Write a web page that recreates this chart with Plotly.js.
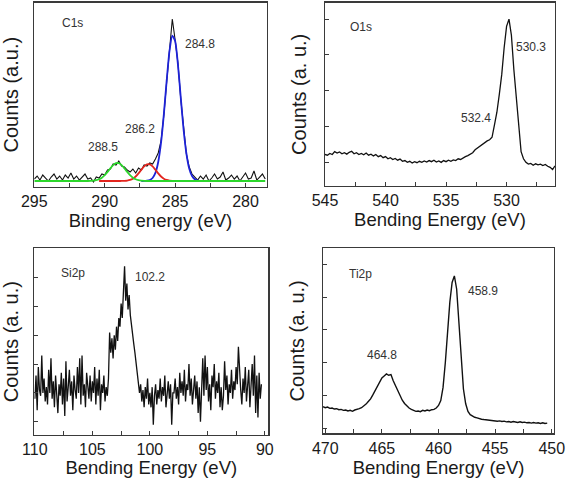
<!DOCTYPE html>
<html>
<head>
<meta charset="utf-8">
<script src="https://cdn.plot.ly/plotly-3.0.1.min.js"></script>
<style>
html,body{margin:0;padding:0;background:#fff;}
#chart{width:567px;height:478px;}
</style>
</head>
<body>
<div id="chart"></div>
<script>
// ---------------- C1s (binding energy, eV; start and step of the energy grid) ----------------
const c1sStart = 295.0, c1sStep = -0.2;
const c1sCounts = [
  2, 5, 1, 6, 3, 0, 4, 7, 2, 5,
  1, 6, 3, 8, 2, 5, 1, 4, 7, 2,
  3, -1, 4, 3, 7, 6, 11, 12, 17, 16,
  20, 15, 14, 11, 9, 12, 8, 13, 11, 16,
  15, 18, 17, 22, 28, 40, 66, 99, 133, 162,
  141, 118, 82, 53, 27, 14, 7, 4, 1, 5,
  2, 6, 0, 3, 7, 2, 4, 9, 1, 3,
  6, 2, 5, 0, 4, 8, 2, 3, 10, 1,
  4, 7, 2
];
const c1sBlueStart = 287.4;
const c1sFitBlue = [0, 0.06, 0.3, 0.9, 3.0, 8.1, 19.0, 38.3, 66.8, 100.3, 130.1, 145.3,
  140.0, 116.4, 83.4, 51.5, 27.5, 12.6, 5.0, 1.7, 0.5, 0.1, 0];
const c1sRedStart = 290.4;
const c1sFitRed = [0, 0, 0, 0, 0, 0, 0, 0.01, 0.04, 0.14, 0.41, 1.04, 2.3, 4.5,
  7.6, 11.2, 14.7, 16.7, 16.7, 14.7, 11.2, 7.6, 4.5, 2.3, 1.04, 0.41, 0.14, 0.04];
const c1sFitGreen = [
  0, 0, 0, 0, 0, 0, 0, 0, 0, 0,
  0, 0, 0, 0, 0, 0, 0, 0, 0, 0,
  0.12, 0.33, 0.79, 1.72, 3.35, 5.85, 9.1, 12.7, 15.9, 17.8,
  17.8, 15.9, 12.7, 9.1, 5.85, 3.35, 1.72, 0.79, 0.33, 0.12,
  0, 0, 0, 0, 0, 0, 0, 0, 0, 0,
  0, 0, 0, 0, 0, 0, 0, 0, 0, 0,
  0, 0, 0, 0, 0, 0, 0, 0, 0, 0,
  0, 0, 0, 0, 0, 0, 0, 0, 0, 0,
  0, 0, 0
];
const c1sTicks = [295, 290, 285, 280];
const c1sLabels = ['C1s', '284.8', '286.2', '288.5'];

// ---------------- O1s ----------------
const o1sStart = 545.0, o1sStep = -0.2;
const o1sCounts = [
  0.22,
  0.20, 0.25, 0.22, 0.30, 0.26, 0.29, 0.24, 0.27, 0.23, 0.28,
  0.31, 0.24, 0.27, 0.22, 0.25, 0.21, 0.26, 0.20, 0.23, 0.18,
  0.22, 0.16, 0.19, 0.13, 0.16, 0.10, 0.13, 0.08, 0.11, 0.06,
  0.09, 0.03, 0.05, 0.00, 0.03, -0.02, 0.02, -0.01, 0.03, 0.00,
  0.04, 0.01, 0.05, 0.02, 0.06, 0.01, 0.04, 0.00, 0.05, 0.02,
  0.06, 0.03, 0.07, 0.05, 0.10, 0.08, 0.13, 0.16, 0.19, 0.24,
  0.27, 0.35, 0.40, 0.47, 0.52, 0.56, 0.60, 0.63, 0.70, 1.05,
  1.40, 1.90, 2.45, 3.20, 3.80, 4.00, 3.55, 2.60, 1.75, 0.90,
  0.30, 0.10, 0.00, -0.05, -0.03, -0.08, -0.04, -0.07, -0.05, -0.09,
  -0.06, -0.11, -0.14, -0.20, -0.10
];
const o1sTicks = [545, 540, 535, 530];
const o1sLabels = ['O1s', '530.3', '532.4'];

// ---------------- Si2p ----------------
const si2pStart = 110.0, si2pStep = -0.1;
const si2pCounts = [
  0.8, 1.6, 0.4, 1.9, 1.1, 0.9, 2.3, 1.0, 1.5, 0.7,
  1.2, 0.6, 1.8, 1.0, 2.2, 0.8, 1.4, 0.5, 1.6, 1.1,
  0.3, 1.3, 0.9, 1.7, 0.6, 1.5, 0.2, 2.1, 0.7, 1.2,
  1.8, 0.9, 1.4, 0.4, 1.6, 1.1, 0.8, 1.9, 1.0, 2.2,
  0.6, 2.3, 0.9, 1.3, 0.5, 1.7, 1.2, 0.8, 1.6, 0.7,
  1.4, 1.0, 1.9, 0.6, 1.5, 0.9, 1.8, 0.4, 1.3, 1.0,
  1.6, 0.7, 1.2, 0.9, 1.5, 3.1, 2.4, 2.9, 2.2, 3.0,
  2.5, 3.3, 2.8, 3.6, 3.3, 4.1, 3.6, 4.6, 5.4, 4.2,
  4.8, 3.9, 4.4, 3.7, 3.3, 3.0, 2.7, 2.4, 2.0, 1.7,
  1.4, 1.0, 1.3, 0.7, 1.1, 0.5, 1.2, 0.8, 1.5, 0.6,
  1.0, 0.5, 1.2, -0.1, 0.9, 1.3, 0.6, 1.1, 0.8, 1.5,
  0.7, 1.2, 0.9, 1.6, 0.5, 1.1, 1.4, 0.8, 1.3, -0.1,
  1.0, 1.0, 1.5, 0.8, 1.2, 0.6, 1.7, 1.0, 1.4, 0.9,
  1.8, 0.7, 1.3, 1.1, 2.0, 0.9, 1.5, 0.6, 1.2, 1.6,
  0.8, 1.4, 0.3, 1.2, 0.0, 1.0, 2.2, 0.9, 2.3, 1.1,
  1.9, 0.7, 1.3, 0.4, 1.6, 1.2, 2.0, 0.8, 1.4, 1.0,
  1.7, 0.5, 1.2, 0.4, 0.9, 2.1, 1.1, 1.6, 0.6, 1.3,
  1.0, 1.8, 0.8, 1.4, 1.1, 1.9, 1.3, 2.6, 1.5, 1.1,
  0.6, 1.5, 1.0, 1.9, 0.7, 1.3, 1.8, 0.5, 1.2, 2.0,
  0.9, 2.3, 0.3, 1.6, 0.15, 1.7, 0.8, 1.3
];
const si2pTicks = [110, 105, 100, 95, 90];
const si2pLabels = ['Si2p', '102.2'];

// ---------------- Ti2p ----------------
const ti2pStart = 470.2, ti2pStep = -0.2;
const ti2pCounts = [
  0.66, 0.63, 0.65, 0.61, 0.62, 0.59, 0.60, 0.57, 0.58, 0.55,
  0.56, 0.53, 0.55, 0.52, 0.56, 0.57, 0.60, 0.63, 0.68, 0.74,
  0.82, 0.90, 1.02, 1.15, 1.29, 1.42, 1.54, 1.60, 1.66, 1.62,
  1.64, 1.45, 1.30, 1.14, 0.98, 0.86, 0.76, 0.68, 0.62, 0.58,
  0.55, 0.52, 0.53, 0.51, 0.55, 0.53, 0.56, 0.54, 0.57, 0.58,
  0.62, 0.70, 0.85, 1.25, 2.00, 2.95, 3.85, 4.45, 4.65, 4.25,
  3.20, 2.05, 1.20, 0.75, 0.52, 0.42, 0.37, 0.34, 0.32, 0.29,
  0.28, 0.27, 0.26, 0.25, 0.24, 0.25, 0.23, 0.22, 0.23, 0.21,
  0.22, 0.20, 0.21, 0.19, 0.21, 0.20, 0.18, 0.20, 0.18, 0.19,
  0.17, 0.18, 0.16, 0.18, 0.16, 0.17, 0.15, 0.17, 0.15, 0.16
];
const ti2pTicks = [470, 465, 460, 455, 450];
const ti2pLabels = ['Ti2p', '458.9', '464.8'];

// ---------------- styling ----------------
const FONT = 'Liberation Sans, Arial, Helvetica, sans-serif';
const INK = '#1a1a1a';
const FRAME = '#3a3a3a';

function rawTrace(start, step, y, xa, ya, w) {
  return {type: 'scatter', mode: 'lines', x0: start, dx: step, y: y, xaxis: xa, yaxis: ya,
    line: {color: '#111', width: w}, hoverinfo: 'skip', showlegend: false};
}
function fitTrace(start, step, y, color) {
  return {type: 'scatter', mode: 'lines', x0: start, dx: step, y: y, xaxis: 'x', yaxis: 'y',
    line: {color: color, width: 1.8, shape: 'spline', smoothing: 0.6}, hoverinfo: 'skip', showlegend: false};
}

const traces = [
  rawTrace(c1sStart, c1sStep, c1sCounts, 'x', 'y', 1.1),
  fitTrace(c1sBlueStart, c1sStep, c1sFitBlue, '#1d22d8'),
  fitTrace(c1sRedStart, c1sStep, c1sFitRed, '#e3261f'),
  fitTrace(c1sStart, c1sStep, c1sFitGreen, '#2cd62c'),
  rawTrace(o1sStart, o1sStep, o1sCounts, 'x2', 'y2', 1.3),
  rawTrace(si2pStart, si2pStep, si2pCounts, 'x3', 'y3', 1.3),
  rawTrace(ti2pStart, ti2pStep, ti2pCounts, 'x4', 'y4', 1.4)
];

function xAxis(domain, range, anchor, tickvals, title) {
  return {
    domain: domain, range: range, anchor: anchor,
    tickmode: 'array', tickvals: tickvals,
    ticks: 'inside', ticklen: 4, tickwidth: 1, tickcolor: FRAME,
    minor: {tick0: 0, dtick: 2.5, ticks: 'inside', ticklen: 4, tickwidth: 1, tickcolor: FRAME},
    showgrid: false, zeroline: false, showline: true, mirror: true,
    linecolor: FRAME, linewidth: 1.2,
    tickfont: {family: FONT, size: 16, color: INK},
    title: {text: title, font: {family: FONT, size: 18.5, color: INK}, standoff: 0},
    automargin: false
  };
}
function yAxis(domain, range, anchor, title, showTicks) {
  return {
    domain: domain, range: range, anchor: anchor,
    tickmode: 'linear', tick0: 0, dtick: 1,
    ticks: showTicks ? 'inside' : '', ticklen: 4, tickwidth: 1, tickcolor: FRAME,
    showticklabels: false,
    showgrid: false, zeroline: false, showline: true, mirror: true,
    linecolor: FRAME, linewidth: 1.2,
    title: {text: title, font: {family: FONT, size: 20, color: INK}, standoff: 11},
    automargin: false
  };
}

function label(text, x, y, xref, yref) {
  return {text: text, x: x, y: y, xref: xref, yref: yref, showarrow: false,
    xanchor: 'center', yanchor: 'middle', font: {family: FONT, size: 12, color: '#333'}};
}

const layout = {
  width: 567, height: 478,
  margin: {l: 0, r: 0, t: 0, b: 0},
  paper_bgcolor: '#fff', plot_bgcolor: '#fff',
  showlegend: false,
  xaxis:  xAxis([0.0605, 0.4703], [295, 278.5], 'y', c1sTicks, 'Binding energy (eV)'),
  yaxis:  yAxis([0.6094, 0.9944], [-5.7, 178.3], 'x', 'Counts (a.u.)', false),
  xaxis2: xAxis([0.5732, 0.9788], [545, 526.0], 'y2', o1sTicks, 'Bending Energy (eV)'),
  yaxis2: yAxis([0.6109, 0.9944], [-0.66, 4.46], 'x2', 'Counts (a. u.)', true),
  xaxis3: xAxis([0.0605, 0.4732], [110.05, 89.7], 'y3', si2pTicks, 'Bending Energy (eV)'),
  yaxis3: yAxis([0.0900, 0.4805], [-0.46, 6.02], 'x3', 'Counts (a. u.)', true),
  xaxis4: xAxis([0.5697, 0.9771], [470.2, 449.8], 'y4', ti2pTicks, 'Bending Energy (eV)'),
  yaxis4: yAxis([0.0935, 0.4805], [-0.15, 5.49], 'x4', 'Counts (a. u.)', true),
  annotations: [
    label(c1sLabels[0], 292.3, 158, 'x', 'y'),
    label(c1sLabels[1], 283.2, 137, 'x', 'y'),
    label(c1sLabels[2], 287.5, 52, 'x', 'y'),
    label(c1sLabels[3], 290.1, 33.5, 'x', 'y'),
    label(o1sLabels[0], 542.0, 3.78, 'x2', 'y2'),
    label(o1sLabels[1], 528.0, 3.23, 'x2', 'y2'),
    label(o1sLabels[2], 532.5, 1.25, 'x2', 'y2'),
    label(si2pLabels[0], 106.7, 5.16, 'x3', 'y3'),
    label(si2pLabels[1], 100.0, 5.02, 'x3', 'y3'),
    label(ti2pLabels[0], 466.9, 4.70, 'x4', 'y4'),
    label(ti2pLabels[1], 456.1, 4.19, 'x4', 'y4'),
    label(ti2pLabels[2], 465.0, 2.25, 'x4', 'y4')
  ]
};

Plotly.newPlot('chart', traces, layout, {staticPlot: true, displayModeBar: false});
</script>
</body>
</html>
